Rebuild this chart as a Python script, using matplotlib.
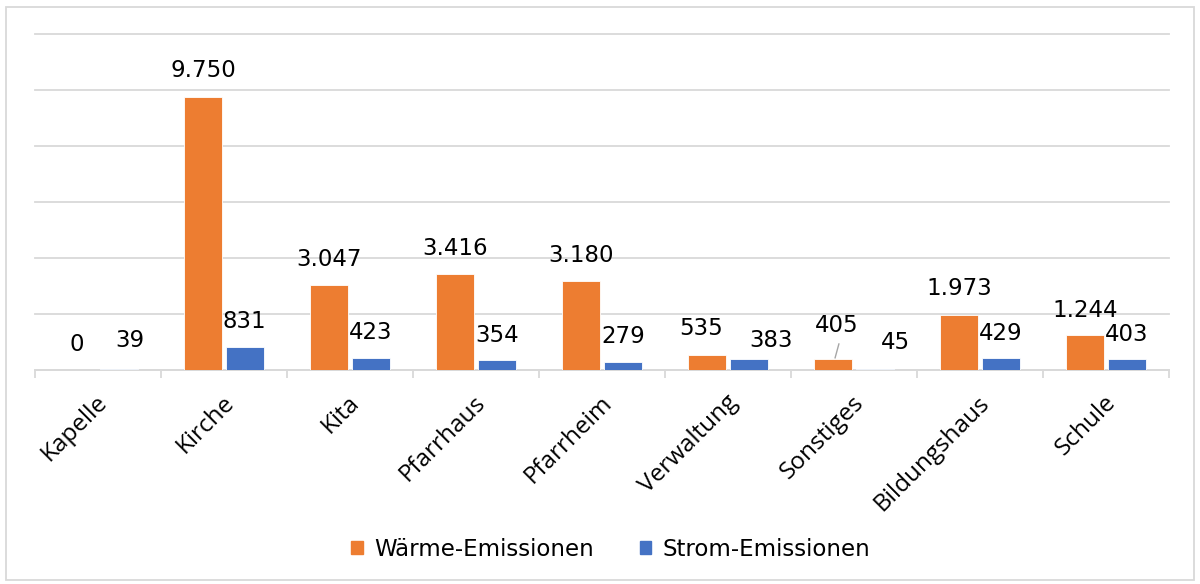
import numpy as np
import matplotlib.pyplot as plt
from matplotlib.patches import Rectangle, Patch

# Data
categories = ['Kapelle', 'Kirche', 'Kita', 'Pfarrhaus', 'Pfarrheim',
              'Verwaltung', 'Sonstiges', 'Bildungshaus', 'Schule']
waerme = [0, 9750, 3047, 3416, 3180, 535, 405, 1973, 1244]
strom = [39, 831, 423, 354, 279, 383, 45, 429, 403]

# hand placed data labels (as in the original): x shift, baseline y
waerme_lbl_dx = [0, 0, 0, 0, 0, -0.05, 0.03, 0, 0]
waerme_lbl_y = [680, 10460, 3710, 4110, 3860, 1250, 1360, 2680, 1890]
strom_lbl_dx = [0.09, 0, 0, 0, 0, 0.175, 0.16, 0, 0]
strom_lbl_y = [820, 1500, 1110, 1000, 960, 820, 750, 1070, 1040]

c_orange = '#ED7D31'
c_blue = '#4472C4'
grid_c = '#d9d9d9'

def fmt(v):
    return f'{v:,}'.replace(',', '.')

fig = plt.figure(figsize=(12, 5.84), dpi=100)
ax = fig.add_axes([35/1200, 1-370/584, (1169-35)/1200, (370-34)/584])

x = np.arange(len(categories))
w = 0.30
off = 0.165
ax.bar(x - off, waerme, w, color=c_orange, edgecolor='white', linewidth=0.6, zorder=3)
ax.bar(x + off, strom, w, color=c_blue, edgecolor='white', linewidth=0.6, zorder=3)

for i in range(len(categories)):
    ax.text(x[i] - off + waerme_lbl_dx[i], waerme_lbl_y[i], fmt(waerme[i]),
            ha='center', va='baseline', fontsize=16.5, family='DejaVu Sans', zorder=4)
    ax.text(x[i] + off + strom_lbl_dx[i], strom_lbl_y[i], fmt(strom[i]),
            ha='center', va='baseline', fontsize=16.5, family='DejaVu Sans', zorder=4)

# leader line for Sonstiges
i = categories.index('Sonstiges')
ax.plot([x[i] - off + 0.015, x[i] - off + 0.045], [waerme[i] + 30, 930],
        color='#a6a6a6', lw=1, zorder=4)

ax.set_xlim(-0.5, len(categories) - 0.5)
ax.set_ylim(0, 12000)
ax.set_yticks(np.arange(0, 12001, 2000))
ax.yaxis.grid(True, color=grid_c, lw=1.3, zorder=0)
for gl in ax.get_ygridlines():
    gl.set_clip_on(False)
ax.tick_params(axis='y', left=False, labelleft=False)
for s in ['top', 'right', 'left']:
    ax.spines[s].set_visible(False)
ax.spines['bottom'].set_color(grid_c)
ax.spines['bottom'].set_linewidth(1.3)

# category boundary ticks
ax.set_xticks(np.arange(-0.5, len(categories), 1.0))
ax.set_xticklabels([])
ax.tick_params(axis='x', length=6, width=1.3, color=grid_c, direction='out')

for i, c in enumerate(categories):
    ax.annotate(c, xy=(x[i] + 0.05, 0), xycoords=('data', 'axes fraction'),
                xytext=(0, -21), textcoords='offset points',
                rotation=45, ha='right', va='center', rotation_mode='anchor',
                fontsize=17.5, family='Open Sans')

handles = [Patch(color=c_orange), Patch(color=c_blue)]
fig.legend(handles, ['Wärme-Emissionen', 'Strom-Emissionen'],
           loc='center', bbox_to_anchor=(0.509, 1-549/584), ncol=2, frameon=False,
           prop={'family': 'DejaVu Sans', 'size': 16.5},
           handlelength=0.5, handleheight=0.5, handletextpad=0.5, columnspacing=2.0)

fig.add_artist(Rectangle((6/1200, 1-580/584), 1188/1200, 573/584,
                         transform=fig.transFigure, fill=False,
                         edgecolor=grid_c, lw=1.3))

plt.savefig('out.png', dpi=100)
